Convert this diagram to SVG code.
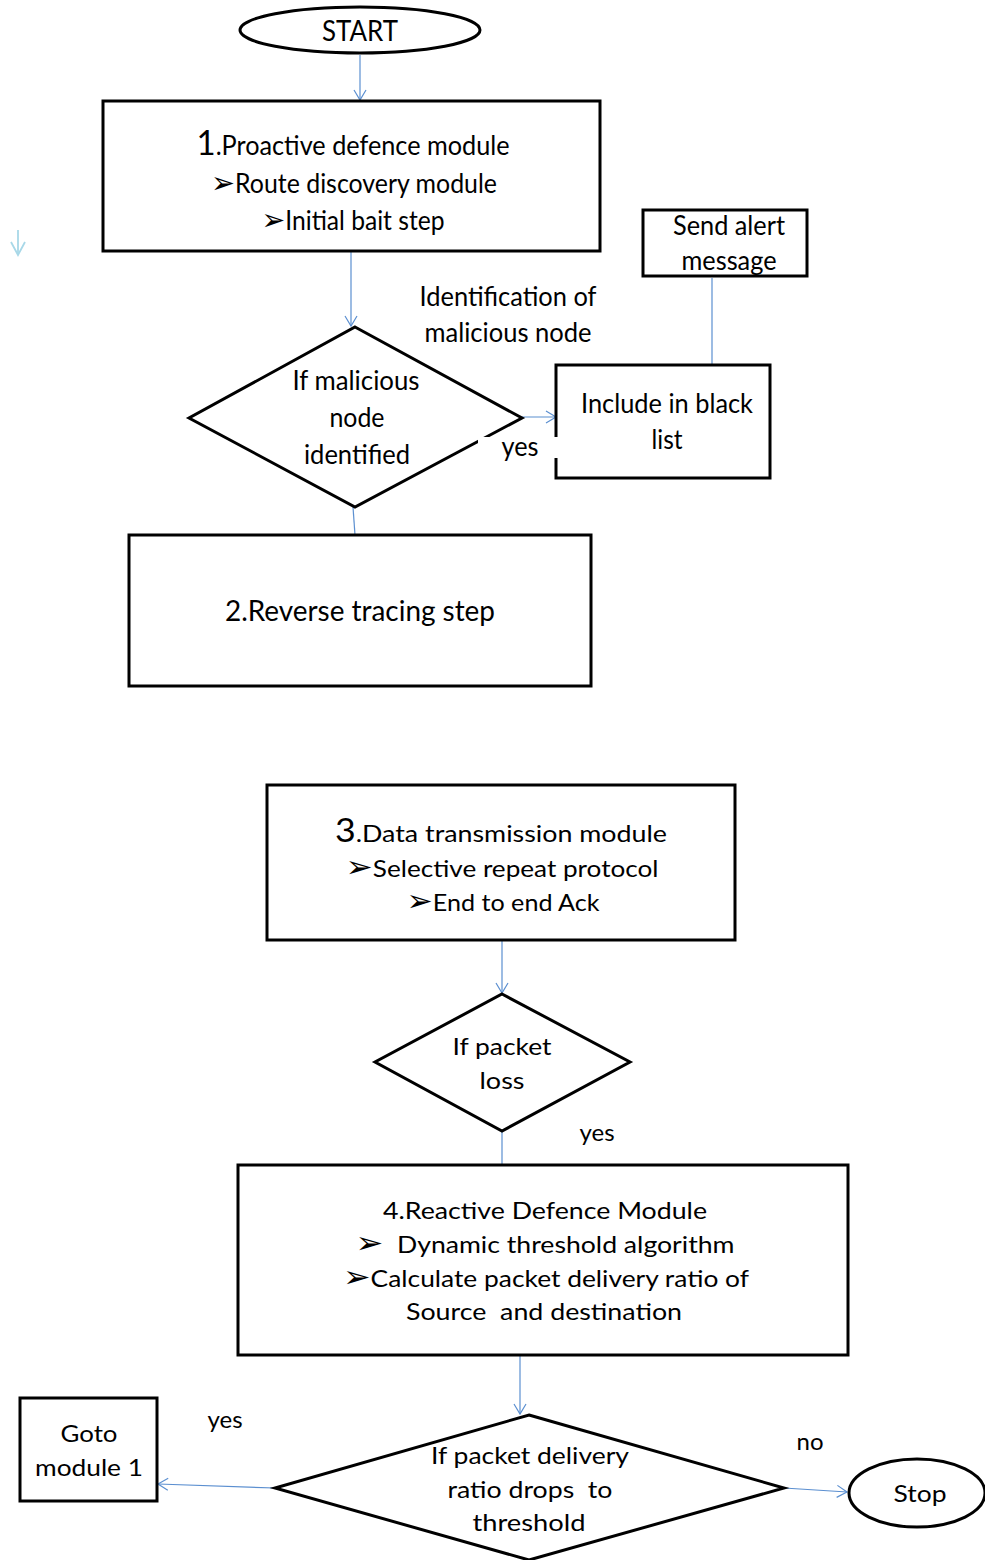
<svg xmlns="http://www.w3.org/2000/svg" width="985" height="1560" viewBox="0 0 985 1560">
<style>
.s{fill:#fff;stroke:#000;stroke-width:3}
.t{font-family:Lato,"Open Sans","DejaVu Sans",sans-serif;fill:#000;text-anchor:middle;white-space:pre}
.c{fill:none;stroke:#5b8fd0;stroke-width:1.2}
.b{font-size:30px}
</style>
<defs>
<marker id="ah" markerWidth="14" markerHeight="14" refX="12" refY="7" orient="auto" markerUnits="userSpaceOnUse">
<polyline points="2,1 12,7 2,13" fill="none" stroke="#5b8fd0" stroke-width="1.2"/>
</marker>
</defs>
<rect width="985" height="1560" fill="#fff"/>
<g id="connectors">
<line class="c" x1="360" y1="55" x2="360" y2="100" marker-end="url(#ah)"/>
<line class="c" x1="351" y1="252" x2="351" y2="326" marker-end="url(#ah)"/>
<line class="c" x1="522" y1="417" x2="556" y2="417" marker-end="url(#ah)"/>
<line class="c" x1="712" y1="278" x2="712" y2="364"/>
<line class="c" x1="353" y1="507" x2="355" y2="535"/>
<line class="c" x1="502" y1="941" x2="502" y2="993" marker-end="url(#ah)"/>
<line class="c" x1="502" y1="1131" x2="502" y2="1165"/>
<line class="c" x1="520" y1="1356" x2="520" y2="1414" marker-end="url(#ah)"/>
<line class="c" x1="275" y1="1488" x2="158" y2="1484" marker-end="url(#ah)"/>
<line class="c" x1="784" y1="1488" x2="847" y2="1492" marker-end="url(#ah)"/>
<g stroke="#a8d8e8" stroke-width="1.8" fill="none"><line x1="18" y1="230" x2="18" y2="255"/><polyline points="11,242 18,255 25,242"/></g>
</g>
<g id="start"><ellipse class="s" cx="360" cy="30" rx="120" ry="23"/><text class="t" x="360" y="41" font-size="28" textLength="76" lengthAdjust="spacingAndGlyphs">START</text></g>
<g id="module1"><rect class="s" x="103" y="101" width="497" height="150"/>
<text class="t" x="353" y="155" font-size="26" textLength="313" lengthAdjust="spacingAndGlyphs"><tspan font-size="34">1</tspan>.Proactive defence module</text>
<text class="t" x="354" y="193" font-size="26" textLength="286" lengthAdjust="spacingAndGlyphs"><tspan class="b">➢</tspan>Route discovery module</text>
<text class="t" x="353" y="230" font-size="26" textLength="183" lengthAdjust="spacingAndGlyphs"><tspan class="b">➢</tspan>Initial bait step</text></g>
<g id="label-ident"><text class="t" x="508" y="306" font-size="26" textLength="177" lengthAdjust="spacingAndGlyphs">Identification of</text><text class="t" x="508" y="342" font-size="26" textLength="167" lengthAdjust="spacingAndGlyphs">malicious node</text></g>
<g id="decision1"><polygon class="s" points="355,327 522,418 355,507 189,418"/>
<text class="t" x="356" y="390" font-size="26" textLength="127" lengthAdjust="spacingAndGlyphs">If malicious</text>
<text class="t" x="357" y="427" font-size="26" textLength="55" lengthAdjust="spacingAndGlyphs">node</text>
<text class="t" x="357" y="464" font-size="26" textLength="106" lengthAdjust="spacingAndGlyphs">identified</text></g>
<g id="blacklist"><rect class="s" x="556" y="365" width="214" height="113"/>
<text class="t" x="667" y="413" font-size="26" textLength="172" lengthAdjust="spacingAndGlyphs">Include in black</text>
<text class="t" x="667" y="449" font-size="26" textLength="31" lengthAdjust="spacingAndGlyphs">list</text></g>
<g id="label-yes1"><rect x="478" y="437" width="81" height="21" fill="#fff"/><text class="t" x="520" y="456" font-size="26" textLength="37" lengthAdjust="spacingAndGlyphs">yes</text></g>
<g id="alert"><rect class="s" x="643" y="210" width="164" height="66"/>
<text class="t" x="729" y="235" font-size="26" textLength="112" lengthAdjust="spacingAndGlyphs">Send alert</text>
<text class="t" x="729" y="270" font-size="26" textLength="95" lengthAdjust="spacingAndGlyphs">message</text></g>
<g id="module2"><rect class="s" x="129" y="535" width="462" height="151"/>
<text class="t" x="360" y="621" font-size="28" textLength="270" lengthAdjust="spacingAndGlyphs">2.Reverse tracing step</text></g>
<g id="module3"><rect class="s" x="267" y="785" width="468" height="155"/>
<text class="t" x="501" y="842" font-size="24" textLength="332" lengthAdjust="spacingAndGlyphs"><tspan font-size="32">3</tspan>.Data transmission module</text>
<text class="t" x="502" y="877" font-size="24" textLength="313" lengthAdjust="spacingAndGlyphs"><tspan class="b">➢</tspan>Selective repeat protocol</text>
<text class="t" x="503" y="911" font-size="24" textLength="193" lengthAdjust="spacingAndGlyphs"><tspan class="b">➢</tspan>End to end Ack</text></g>
<g id="decision2"><polygon class="s" points="502,994 630,1062 502,1131 375,1062"/>
<text class="t" x="502" y="1055" font-size="24" textLength="99" lengthAdjust="spacingAndGlyphs">If packet</text>
<text class="t" x="502" y="1089" font-size="24" textLength="45" lengthAdjust="spacingAndGlyphs">loss</text></g>
<g id="label-yes2"><text class="t" x="597" y="1141" font-size="24">yes</text></g>
<g id="module4"><rect class="s" x="238" y="1165" width="610" height="190"/>
<text class="t" x="545" y="1219" font-size="24" textLength="324" lengthAdjust="spacingAndGlyphs">4.Reactive Defence Module</text>
<text class="t" x="545" y="1253" font-size="24" textLength="379" lengthAdjust="spacingAndGlyphs"><tspan class="b">➢</tspan>  Dynamic threshold algorithm</text>
<text class="t" x="546" y="1287" font-size="24" textLength="406" lengthAdjust="spacingAndGlyphs"><tspan class="b">➢</tspan>Calculate packet delivery ratio of</text>
<text class="t" x="544" y="1320" font-size="24" textLength="276" lengthAdjust="spacingAndGlyphs">Source  and destination</text></g>
<g id="decision3"><polygon class="s" points="529,1415 784,1488 529,1560 275,1488"/>
<text class="t" x="530" y="1464" font-size="24" textLength="198" lengthAdjust="spacingAndGlyphs">If packet delivery</text>
<text class="t" x="530" y="1498" font-size="24" textLength="165" lengthAdjust="spacingAndGlyphs">ratio drops  to</text>
<text class="t" x="529" y="1531" font-size="24" textLength="113" lengthAdjust="spacingAndGlyphs">threshold</text></g>
<g id="goto"><rect class="s" x="20" y="1398" width="137" height="103"/>
<text class="t" x="89" y="1442" font-size="24" textLength="57" lengthAdjust="spacingAndGlyphs">Goto</text>
<text class="t" x="89" y="1476" font-size="24" textLength="108" lengthAdjust="spacingAndGlyphs">module 1</text></g>
<g id="label-yes3"><text class="t" x="225" y="1428" font-size="24">yes</text></g>
<g id="label-no"><text class="t" x="810" y="1450" font-size="24">no</text></g>
<g id="stop"><ellipse class="s" cx="917" cy="1493" rx="68" ry="34"/>
<text class="t" x="920" y="1502" font-size="24" textLength="53" lengthAdjust="spacingAndGlyphs">Stop</text></g>
</svg>
